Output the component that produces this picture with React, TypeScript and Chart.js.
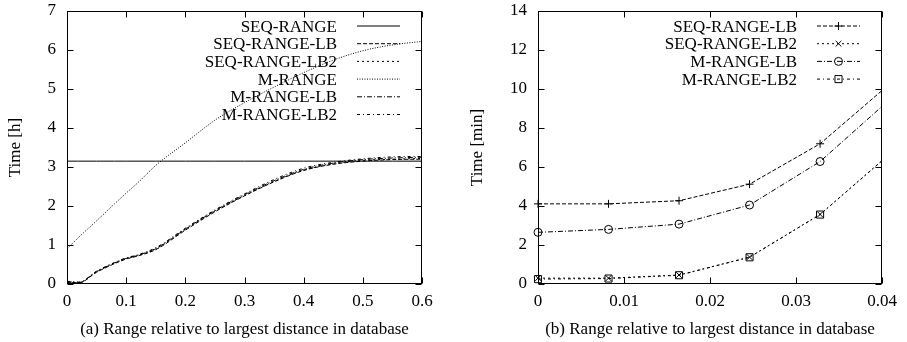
import React, { useEffect, useRef } from 'react';
import { Chart, registerables } from 'chart.js';
import * as helpers from 'chart.js/helpers';

Chart.register(...registerables);

const FONT = '"Liberation Serif", "Times New Roman", serif';

// ---------- Chart (a): time in hours ----------
const RANGE_A = [0, 0.02, 0.05, 0.08, 0.1, 0.12, 0.15, 0.2, 0.25, 0.3, 0.35, 0.4, 0.45, 0.5, 0.55, 0.6];
const SEQ_RANGE_A = [3.15, 3.15, 3.15, 3.15, 3.15, 3.15, 3.15, 3.15, 3.15, 3.15, 3.15, 3.15, 3.15, 3.15, 3.15, 3.15];
const SEQ_RANGE_LB_A = [0.05, 0.03, 0.3, 0.52, 0.64, 0.72, 0.88, 1.38, 1.85, 2.26, 2.62, 2.91, 3.07, 3.15, 3.19, 3.2];
const SEQ_RANGE_LB2_A = [0.04, 0.03, 0.31, 0.53, 0.65, 0.73, 0.9, 1.4, 1.87, 2.27, 2.63, 2.92, 3.08, 3.17, 3.2, 3.22];
const M_RANGE_A = [0.9, 1.2, 1.62, 2.05, 2.33, 2.6, 3.04, 3.62, 4.2, 4.65, 5.05, 5.42, 5.74, 5.98, 6.13, 6.22];
const M_RANGE_LB_A = [0.06, 0.04, 0.32, 0.54, 0.66, 0.74, 0.91, 1.41, 1.88, 2.29, 2.65, 2.94, 3.1, 3.19, 3.23, 3.25];
const M_RANGE_LB2_A = [0.07, 0.05, 0.33, 0.55, 0.67, 0.75, 0.93, 1.43, 1.9, 2.31, 2.68, 2.97, 3.12, 3.21, 3.26, 3.27];
const X_TICKS_A = ['0', '0.1', '0.2', '0.3', '0.4', '0.5', '0.6'];
const Y_TICKS_A = ['0', '1', '2', '3', '4', '5', '6', '7'];

// ---------- Chart (b): time in minutes ----------
const RANGE_B = [0, 0.0082, 0.0164, 0.0246, 0.0328, 0.041];
const SEQ_RANGE_LB_B = [4.11, 4.11, 4.27, 5.12, 7.19, 10.3];
const SEQ_RANGE_LB2_B = [0.3, 0.3, 0.46, 1.38, 3.57, 6.71];
const M_RANGE_LB_B = [2.65, 2.8, 3.07, 4.05, 6.28, 9.5];
const M_RANGE_LB2_B = [0.25, 0.28, 0.45, 1.37, 3.56, 6.7];
const X_TICKS_B = ['0', '0.01', '0.02', '0.03', '0.04'];
const Y_TICKS_B = ['0', '2', '4', '6', '8', '10', '12', '14'];

const pts = (xs: number[], ys: number[]) => xs.map((x, i) => ({ x, y: ys[i] }));

const gnuplotFrame = {
  id: 'gnuplotFrame',
  afterDatasetsDraw(chart: any, _args: any, opts: any) {
    const { ctx, chartArea: a, scales } = chart;
    ctx.save();
    // legend
    ctx.font = `17px ${FONT}`;
    ctx.strokeStyle = '#000';
    ctx.textAlign = 'right';
    ctx.textBaseline = 'alphabetic';
    chart.data.datasets.forEach((ds: any, i: number) => {
      const y = a.top + 15 + i * 17.7;
      ctx.fillStyle = '#000';
      ctx.fillText(ds.label, a.right - 85, y + 5.6);
      ctx.beginPath();
      ctx.setLineDash(ds.borderDash || []);
      ctx.lineWidth = 1;
      ctx.moveTo(a.right - 65, y);
      ctx.lineTo(a.right - 22, y);
      ctx.stroke();
      ctx.setLineDash([]);
      if (ds.pointRadius > 0) {
        ctx.fillStyle = 'rgba(0,0,0,0)';
        helpers.drawPoint(ctx, { pointStyle: ds.pointStyle, radius: ds.pointRadius, rotation: 0, borderWidth: 1 } as any, (a.right - 65 + a.right - 22) / 2, y);
      }
    });
    // frame
    ctx.lineWidth = 1;
    ctx.strokeStyle = '#000';
    const L = Math.round(a.left) + 0.5, R = Math.round(a.right) - 0.5;
    const T = Math.round(a.top) + 0.5, B = Math.round(a.bottom) - 0.5;
    ctx.strokeRect(L, T, R - L, B - T);
    // inward ticks
    ctx.beginPath();
    scales.x.ticks.forEach((t: any) => {
      const px = Math.round(scales.x.getPixelForValue(t.value)) + 0.5;
      ctx.moveTo(px, B); ctx.lineTo(px, B - 6);
      ctx.moveTo(px, T); ctx.lineTo(px, T + 6);
    });
    scales.y.ticks.forEach((t: any) => {
      const py = Math.round(scales.y.getPixelForValue(t.value)) + 0.5;
      ctx.moveTo(L, py); ctx.lineTo(L + 6, py);
      ctx.moveTo(R, py); ctx.lineTo(R - 6, py);
    });
    ctx.stroke();
    // y title
    ctx.fillStyle = '#000';
    ctx.font = `17px ${FONT}`;
    ctx.save();
    ctx.translate(opts.titleX, (a.top + a.bottom) / 2);
    ctx.rotate(-Math.PI / 2);
    ctx.textAlign = 'center';
    ctx.textBaseline = 'middle';
    ctx.fillText(opts.yTitle, 0, 0);
    ctx.restore();
    // caption
    ctx.textAlign = 'center';
    ctx.textBaseline = 'alphabetic';
    ctx.fillText(opts.caption, (a.left + a.right) / 2, 333.5);
    ctx.restore();
  },
};

function makeOptions(p: {
  xMax: number; xStep: number; xTicks: string[];
  yMax: number; yStep: number; yTicks: string[];
  yWidth: number; padRight: number; yTitle: string; titleX: number; caption: string;
}) {
  const tickFont = { family: FONT, size: 17 };
  return {
    responsive: false,
    maintainAspectRatio: false,
    animation: false,
    layout: { padding: { top: 11, right: p.padRight, left: 0, bottom: 0 } },
    plugins: {
      legend: { display: false },
      tooltip: { enabled: false },
      gnuplotFrame: { yTitle: p.yTitle, titleX: p.titleX, caption: p.caption },
    },
    scales: {
      x: {
        type: 'linear',
        min: 0,
        max: p.xMax,
        grid: { display: false, drawTicks: false },
        border: { display: false },
        ticks: {
          stepSize: p.xStep,
          padding: 7,
          color: '#000',
          font: tickFont,
          maxRotation: 0,
          autoSkip: false,
          callback: (_v: any, i: number) => p.xTicks[i],
        },
        afterFit: (s: any) => { s.height = 58; s.paddingLeft = 0; s.paddingRight = 0; },
      },
      y: {
        type: 'linear',
        min: 0,
        max: p.yMax,
        grid: { display: false, drawTicks: false },
        border: { display: false },
        ticks: {
          stepSize: p.yStep,
          padding: 11,
          color: '#000',
          font: tickFont,
          autoSkip: false,
          callback: (_v: any, i: number) => p.yTicks[i],
        },
        afterFit: (s: any) => { s.width = p.yWidth; s.paddingTop = 0; s.paddingBottom = 0; },
      },
    },
  };
}

const lineA = (label: string, ys: number[], dash: number[]) => ({
  label,
  data: pts(RANGE_A, ys),
  borderColor: '#000',
  borderWidth: 1,
  borderDash: dash,
  pointRadius: 0,
  fill: false,
  cubicInterpolationMode: 'monotone',
});

const lineB = (label: string, ys: number[], dash: number[], pointStyle: string, r: number) => ({
  label,
  data: pts(RANGE_B, ys),
  borderColor: '#000',
  borderWidth: 1,
  borderDash: dash,
  pointStyle,
  pointRadius: r,
  pointBorderWidth: 1,
  pointBorderColor: '#000',
  pointBackgroundColor: 'rgba(0,0,0,0)',
  fill: false,
  tension: 0,
  clip: { left: 8, top: 0, right: 0, bottom: 8 },
});

const configA: any = {
  type: 'line',
  data: {
    datasets: [
      lineA('SEQ-RANGE', SEQ_RANGE_A, []),
      lineA('SEQ-RANGE-LB', SEQ_RANGE_LB_A, [4, 2]),
      lineA('SEQ-RANGE-LB2', SEQ_RANGE_LB2_A, [2, 3]),
      lineA('M-RANGE', M_RANGE_A, [1, 1.5]),
      lineA('M-RANGE-LB', M_RANGE_LB_A, [5, 2, 1, 2]),
      lineA('M-RANGE-LB2', M_RANGE_LB2_A, [3, 3, 1, 3]),
    ],
  },
  options: makeOptions({
    xMax: 0.6, xStep: 0.1, xTicks: X_TICKS_A,
    yMax: 7, yStep: 1, yTicks: Y_TICKS_A,
    yWidth: 67, padRight: 28, yTitle: 'Time [h]', titleX: 16,
    caption: '(a) Range relative to largest distance in database',
  }),
  plugins: [gnuplotFrame],
};

const configB: any = {
  type: 'line',
  data: {
    datasets: [
      lineB('SEQ-RANGE-LB', SEQ_RANGE_LB_B, [4, 2], 'cross', 4),
      lineB('SEQ-RANGE-LB2', SEQ_RANGE_LB2_B, [2, 3], 'crossRot', 4),
      lineB('M-RANGE-LB', M_RANGE_LB_B, [5, 2, 1, 2], 'circle', 4),
      lineB('M-RANGE-LB2', M_RANGE_LB2_B, [3, 3, 1, 3], 'rect', 5),
    ],
  },
  options: makeOptions({
    xMax: 0.04, xStep: 0.01, xTicks: X_TICKS_B,
    yMax: 14, yStep: 2, yTicks: Y_TICKS_B,
    yWidth: 88, padRight: 25, yTitle: 'Time [min]', titleX: 27.5,
    caption: '(b) Range relative to largest distance in database',
  }),
  plugins: [gnuplotFrame],
};

function GnuplotChart({ config, left, width }: { config: any; left: number; width: number }) {
  const ref = useRef<HTMLCanvasElement>(null);
  useEffect(() => {
    const chart = new Chart(ref.current as HTMLCanvasElement, config);
    return () => chart.destroy();
  }, [config]);
  return (
    <canvas
      ref={ref}
      width={width}
      height={342}
      style={{ position: 'absolute', left, top: 0, width, height: 342 }}
    />
  );
}

export default function App() {
  return (
    <div style={{ position: 'absolute', left: 0, top: 0, width: 907, height: 342, background: '#fff', overflow: 'hidden' }}>
      <GnuplotChart config={configA} left={0} width={450} />
      <GnuplotChart config={configB} left={450} width={457} />
    </div>
  );
}
